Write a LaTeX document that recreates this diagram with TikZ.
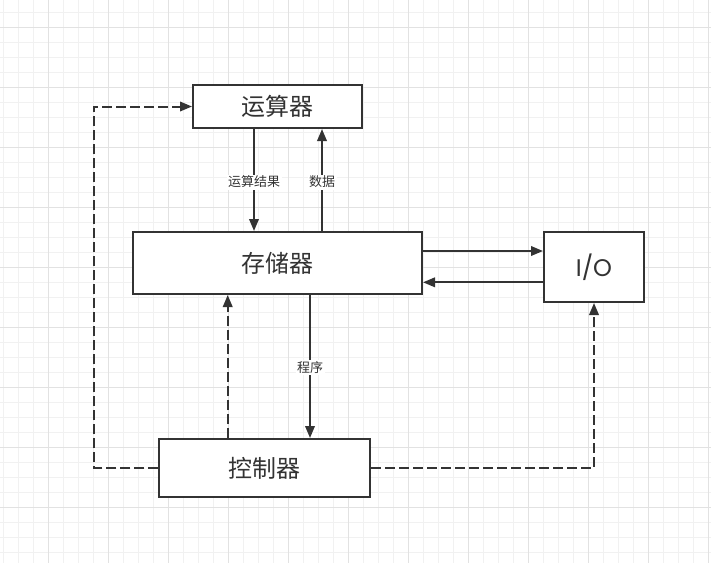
\documentclass[tikz,border=0pt]{standalone}
\usepackage{fontspec}
\setmainfont{Noto Sans CJK SC}
\newfontfamily\latinfont{Poppins}
\usetikzlibrary{arrows.meta,calc}
\definecolor{ink}{HTML}{333333}
\definecolor{gridminor}{HTML}{F1F1F1}
\definecolor{gridmajor}{HTML}{E2E2E2}
\begin{document}
\begin{tikzpicture}[x=1pt,y=-1pt,
  box/.style={draw=ink,line width=2pt,fill=white,inner sep=0pt,text=ink,font=\fontsize{24}{28}\selectfont},
  lbl/.style={fill=white,inner sep=1.5pt,text=ink,font=\fontsize{13}{15}\selectfont},
  arr/.style={draw=ink,line width=2pt,-{Triangle[length=12pt,width=9.5pt]}},
  darr/.style={arr,dash pattern=on 10pt off 4pt}]
\useasboundingbox (0,0) rectangle (711,563);
\fill[white] (0,0) rectangle (711,563);
% grid
\foreach \x in {3,18,...,711} \draw[gridminor,line width=1pt] (\x,0) -- (\x,563);
\foreach \y in {12,27,...,563} \draw[gridminor,line width=1pt] (0,\y) -- (711,\y);
\foreach \x in {48,108,...,711} \draw[gridmajor,line width=1pt] (\x,0) -- (\x,563);
\foreach \y in {27,87,...,563} \draw[gridmajor,line width=1pt] (0,\y) -- (711,\y);
% nodes
\node[box,minimum width=169pt,minimum height=43pt] (alu) at (277.5,106.5) {运算器};
\node[box,minimum width=289pt,minimum height=62pt] (mem) at (277.5,263) {存储器};
\node[box,minimum width=100pt,minimum height=70pt] (io) at (594,267) {\latinfont I/O};
\node[box,minimum width=211pt,minimum height=58pt] (ctrl) at (264.75,468) {控制器};
% alu <-> mem
\draw[arr] ([xshift=-23.5pt]alu.south) -- node[lbl,pos=0.52]{运算结果} ([xshift=-23.5pt]alu.south |- mem.north);
\draw[arr] ([xshift=44.5pt]alu.south |- mem.north) -- node[lbl,pos=0.48]{数据} ([xshift=44.5pt]alu.south);
% mem <-> io
\draw[arr] ([yshift=12pt]mem.east) -- ([yshift=12pt]mem.east -| io.west);
\draw[arr] ([yshift=-19.3pt]mem.east -| io.west) -- ([yshift=-19.3pt]mem.east);
% program
\draw[arr] ([xshift=32.5pt]mem.south) -- node[lbl,pos=0.51]{程序} ([xshift=32.5pt]mem.south |- ctrl.north);
% control dashed
\draw[darr] ([xshift=-49.8pt]mem.south |- ctrl.north) -- ([xshift=-49.8pt]mem.south);
\coordinate (c1) at (94,468);
\coordinate (c2) at (94,106.5);
\draw[darr] (ctrl.west) -- (c1) -- (c2) -- (alu.west);
\draw[darr] (ctrl.east) -- (ctrl.east -| io.south) -- (io.south);
\end{tikzpicture}
\end{document}
